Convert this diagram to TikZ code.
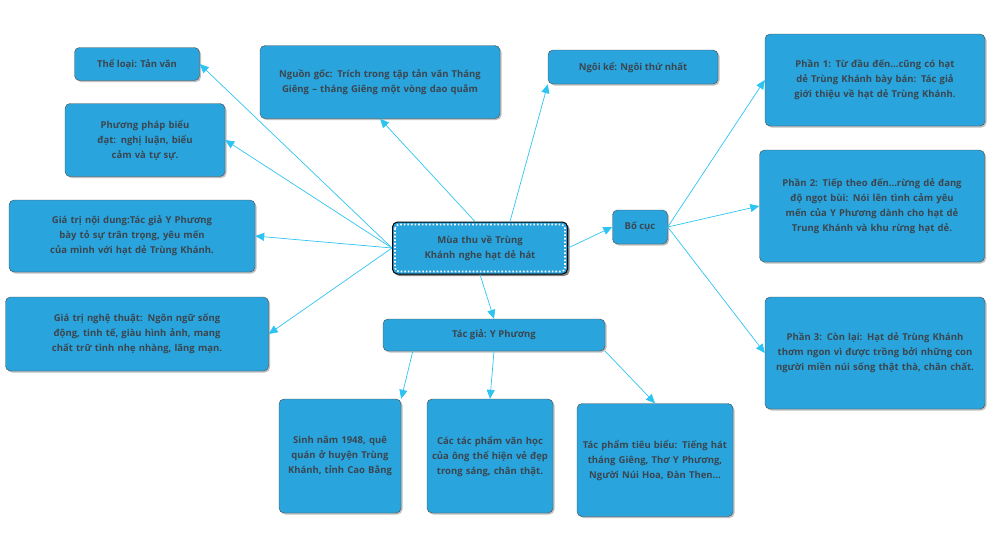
\documentclass[tikz,border=0pt]{standalone}
\usepackage{fontspec}
\setmainfont{Open Sans}
\usetikzlibrary{shadows,arrows.meta}
\definecolor{bx}{HTML}{2AA4DC}
\definecolor{tx}{HTML}{3A4650}
\definecolor{ln}{HTML}{2EC4F2}
\begin{document}
\begin{tikzpicture}[x=1pt,y=-1pt,
 box/.style={draw=gray!60!black,line width=0.4pt,fill=bx,rounded corners=5pt,align=center,text=tx,font=\bfseries\fontsize{9.5}{15}\selectfont,inner sep=4pt,drop shadow={shadow xshift=1.5pt,shadow yshift=-1.5pt,opacity=0.5}},
 ar/.style={draw=ln,line width=0.7pt,-{Triangle[length=9pt,width=8pt]}}]
\useasboundingbox (0,0) rectangle (1000,550);
\node[box,minimum width=125,minimum height=33] (tl) at (137,64) {Thể loại: Tản văn};
\node[box,minimum width=160,minimum height=73,text width=150] (pp) at (145,140) {Phương pháp biểu\\đạt: nghị luận, biểu\\cảm và tự sự.};
\node[box,minimum width=245,minimum height=72,text width=238] (nd) at (132,236) {Giá trị nội dung:Tác giả Y Phương bày tỏ sự trân trọng, yêu mến của mình với hạt dẻ Trùng Khánh.};
\node[box,minimum width=261,minimum height=74,text width=255] (nt) at (137,334) {Giá trị nghệ thuật: Ngôn ngữ sống động, tinh tế, giàu hình ảnh, mang chất trữ tình nhẹ nhàng, lãng mạn.};
\node[box,minimum width=240,minimum height=73,text width=232] (ng) at (380,82) {Nguồn gốc: Trích trong tập tản văn Tháng Giêng – tháng Giêng một vòng dao quắm};
\node[box,minimum width=170,minimum height=34] (nk) at (633,67) {Ngôi kể: Ngôi thứ nhất};
\node[box,minimum width=175,minimum height=52,text width=160,draw=black,line width=1pt,drop shadow={shadow xshift=2pt,shadow yshift=-2pt,opacity=0.9}] (c) at (480,248) {Mùa thu về Trùng\\Khánh nghe hạt dẻ hát};
\draw[white,line width=1.6pt,dash pattern=on 1.6pt off 2pt,rounded corners=4pt] ([shift={(3,3)}]c.north west) rectangle ([shift={(-3,-3)}]c.south east);
\node[box,minimum width=55,minimum height=34] (bc) at (640,227) {Bố cục};
\node[box,minimum width=220,minimum height=92,text width=212] (p1) at (875,80) {Phần 1: Từ đầu đến...cũng có hạt dẻ Trùng Khánh bày bán: Tác giả giới thiệu về hạt dẻ Trùng Khánh.};
\node[box,minimum width=225,minimum height=112,text width=215] (p2) at (872,206) {Phần 2: Tiếp theo đến...rừng dẻ đang độ ngọt bùi: Nói lên tình cảm yêu mến của Y Phương dành cho hạt dẻ Trung Khánh và khu rừng hạt dẻ.};
\node[box,minimum width=220,minimum height=112,text width=212] (p3) at (875,353) {Phần 3: Còn lại: Hạt dẻ Trùng Khánh thơm ngon vì được trồng bởi những con người miền núi sống thật thà, chân chất.};
\node[box,minimum width=222,minimum height=32] (tg) at (494,335) {Tác giả: Y Phương};
\node[box,minimum width=121,minimum height=114,text width=114] (sn) at (340,456) {Sinh năm 1948, quê quán ở huyện Trùng Khánh, tỉnh Cao Bằng};
\node[box,minimum width=126,minimum height=114,text width=118] (ct) at (490,456) {Các tác phẩm văn học của ông thể hiện vẻ đẹp trong sáng, chân thật.};
\node[box,minimum width=156,minimum height=113,text width=148] (tp) at (655,460) {Tác phẩm tiêu biểu: Tiếng hát tháng Giêng, Thơ Y Phương, Người Núi Hoa, Đàn Then...};
\draw[ar] (c.west) -- (tl.east);
\draw[ar] (c.west) -- (pp.east);
\draw[ar] (c.west) -- (nd.east);
\draw[ar] (c.west) -- (nt.east);
\draw[ar] ([xshift=-5]c.north) -- (ng.south);
\draw[ar] ([xshift=30]c.north) -- (nk.south west);
\draw[ar] (c.east) -- (bc.west);
\draw[ar] (c.south) -- (tg.north);
\draw[ar] (bc.east) -- (p1.west);
\draw[ar] (bc.east) -- (p2.west);
\draw[ar] (bc.east) -- (p3.west);
\draw[ar] ([xshift=-25]tg.south west) ++(55,0) -- (sn.north east);
\draw[ar] (tg.south) -- (ct.north);
\draw[ar] (tg.south east) -- (tp.north);
\end{tikzpicture}
\end{document}
